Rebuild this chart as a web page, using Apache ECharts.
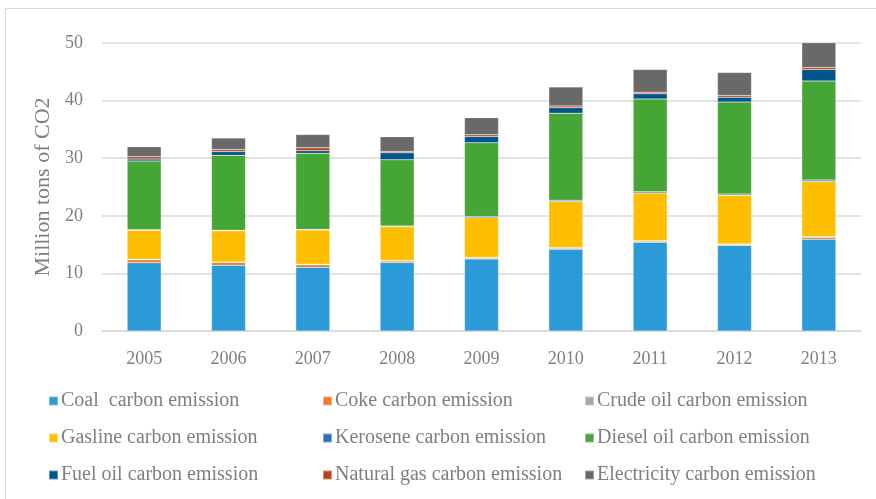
<!DOCTYPE html>
<html>
<head>
<meta charset="utf-8">
<script src="https://cdn.jsdelivr.net/npm/echarts@6/dist/echarts.min.js"></script>
<style>
  html, body { margin: 0; padding: 0; background: #fff; }
  #chart { width: 876px; height: 499px; }
</style>
</head>
<body>
<div id="chart"></div>
<script>
// 年份
const years = ['2005', '2006', '2007', '2008', '2009', '2010', '2011', '2012', '2013'];

// 各类排放（百万吨 CO2）
const coal = [11.85, 11.4, 11.05, 11.9, 12.5, 14.2, 15.4, 14.85, 15.95];
const coke = [0.5, 0.5, 0.45, 0.25, 0.17, 0.17, 0.17, 0.17, 0.3];
const crudeOil = [0.1, 0.1, 0.1, 0.1, 0.1, 0.12, 0.1, 0.1, 0.15];
const gasoline = [5.05, 5.4, 5.95, 5.85, 6.9, 8.0, 8.3, 8.45, 9.55];
const kerosene = [0.1, 0.1, 0.1, 0.13, 0.2, 0.23, 0.2, 0.2, 0.25];
const diesel = [11.9, 13.0, 13.2, 11.5, 12.8, 15.1, 16.1, 16.0, 17.2];
const fuelOil = [0.35, 0.65, 0.45, 1.2, 1.1, 0.95, 0.9, 0.8, 2.0];
const naturalGas = [0.4, 0.35, 0.5, 0.25, 0.3, 0.3, 0.3, 0.3, 0.35];
const electricity = [1.75, 2.0, 2.3, 2.55, 2.95, 3.3, 3.95, 4.0, 4.4];

const yTicks = [0, 10, 20, 30, 40, 50];

const seriesDefs = [
  ['Coal  carbon emission', coal, '#2a9bd8'],
  ['Coke carbon emission', coke, '#ef7d2d'],
  ['Crude oil carbon emission', crudeOil, '#a9a9a9'],
  ['Gasline carbon emission', gasoline, '#fdbf00'],
  ['Kerosene carbon emission', kerosene, '#2f6fba'],
  ['Diesel oil carbon emission', diesel, '#45a535'],
  ['Fuel oil carbon emission', fuelOil, '#02548c'],
  ['Natural gas carbon emission', naturalGas, '#b8441b'],
  ['Electricity carbon emission', electricity, '#696969']
];

const font = 'Liberation Serif';
const textGray = '#7f7f7f';

const legendCommon = {
  orient: 'vertical',
  top: 390,
  padding: 0,
  itemGap: 15,
  itemWidth: 9,
  itemHeight: 9,
  icon: 'rect',
  textStyle: { fontFamily: font, fontSize: 20, color: textGray, lineHeight: 22, padding: [0, 0, 0, -2] }
};

const chart = echarts.init(document.getElementById('chart'));
chart.setOption({
  animation: false,
  backgroundColor: '#fff',
  graphic: [{
    type: 'rect',
    shape: { x: 5.5, y: 8.5, width: 880, height: 500 },
    style: { fill: 'none', stroke: '#d9d9d9', lineWidth: 1 },
    silent: true
  }],
  grid: { left: 102, right: 15, top: 43, bottom: 168 },
  legend: [
    Object.assign({ left: 48, data: [seriesDefs[0][0], seriesDefs[3][0], seriesDefs[6][0]] }, legendCommon),
    Object.assign({ left: 322, data: [seriesDefs[1][0], seriesDefs[4][0], seriesDefs[7][0]] }, legendCommon),
    Object.assign({ left: 584, data: [seriesDefs[2][0], seriesDefs[5][0], seriesDefs[8][0]] }, legendCommon)
  ],
  xAxis: {
    type: 'category',
    data: years,
    axisLine: { lineStyle: { color: '#d9d9d9', width: 1.5 } },
    axisTick: { show: false },
    axisLabel: { fontFamily: font, fontSize: 18, color: textGray, margin: 19 }
  },
  yAxis: {
    type: 'value',
    min: yTicks[0],
    max: yTicks[yTicks.length - 1],
    interval: 10,
    name: 'Million tons of CO2',
    nameLocation: 'middle',
    nameRotate: 90,
    nameGap: 46,
    nameTextStyle: { fontFamily: font, fontSize: 22, color: textGray },
    axisLine: { show: false },
    axisTick: { show: false },
    axisLabel: { fontFamily: font, fontSize: 18, color: textGray, margin: 19 },
    splitLine: { lineStyle: { color: '#d9d9d9', width: 1.5 } }
  },
  series: seriesDefs.map(([name, data, color]) => ({
    name,
    type: 'bar',
    stack: 'total',
    barWidth: 34,
    data,
    itemStyle: { color, borderColor: 'rgba(255,255,255,0.4)', borderWidth: 0.5 }
  }))
});
</script>
</body>
</html>
